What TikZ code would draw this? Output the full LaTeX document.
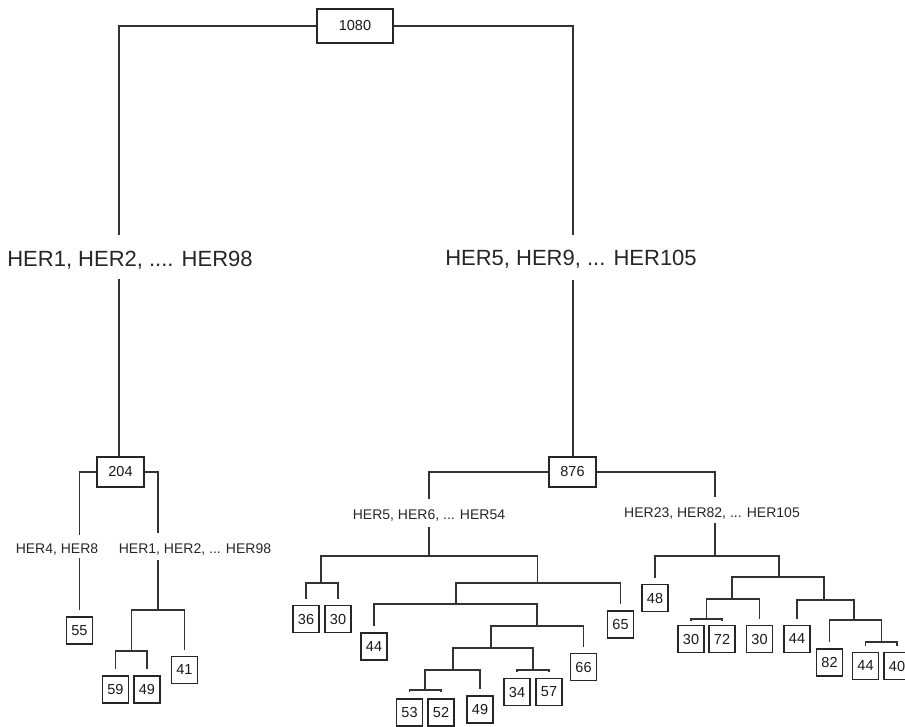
\documentclass[tikz,border=0pt]{standalone}
\usepackage{fontspec}
\setmainfont{Liberation Sans}
\tikzset{
  leaf/.style={draw=black!85, fill=white, line width=1.4pt, text=black!90,
    minimum width=26pt, minimum height=27pt, inner sep=0pt,
    font=\fontsize{14.5}{15}\selectfont},
  inner/.style={leaf, minimum width=47pt, minimum height=30pt},
  rootbox/.style={leaf, minimum width=76pt, minimum height=34pt},
  split/.style={anchor=base, inner sep=0pt, text=black!85,
    font=\fontsize{14}{15}\selectfont},
  bigsplit/.style={split, font=\fontsize{22}{24}\selectfont},
  edge/.style={line width=1.5pt, draw=black!80}
}

\begin{document}
\begin{tikzpicture}[x=1pt,y=-1pt]
  \clip (0,0) rectangle (905,726);

  % junctions
  \coordinate (a1) at (119,235);  \coordinate (a2) at (119,279);
  \coordinate (b1) at (573,235);  \coordinate (b2) at (573,280);
  \coordinate (c1) at (79.5,535); \coordinate (c2) at (79.5,558);
  \coordinate (d1) at (158,533);  \coordinate (d2) at (158,560);
  \coordinate (d3) at (158,610);  \coordinate (e1) at (131.5,651);
  \coordinate (f1) at (429,499);  \coordinate (f2) at (429,527);
  \coordinate (f3) at (429,556);
  \coordinate (g1) at (321,583);  \coordinate (g2) at (537.5,583);
  \coordinate (h1) at (456,604);  \coordinate (h2) at (537,626);
  \coordinate (i1) at (491,648);  \coordinate (i2) at (453,670);
  \coordinate (i3) at (533,670);  \coordinate (i4) at (425,690);
  \coordinate (k1) at (715,497);  \coordinate (k2) at (715,523);
  \coordinate (k3) at (715,556);
  \coordinate (m1) at (779,577);  \coordinate (m2) at (732,599);
  \coordinate (m3) at (824,600);  \coordinate (m4) at (706.5,619);
  \coordinate (m5) at (854,620);  \coordinate (m6) at (881.25,642);

  % boxes
  \node[rootbox] (root) at (355,26) {1080};
  \node[inner] (n204) at (120.5,472) {204};
  \node[inner] (n876) at (572.5,472) {876};

  \node[leaf] (l55)  at (79.5,630.5) {55};
  \node[leaf] (l41)  at (184.5,670) {41};
  \node[leaf] (l59)  at (115.5,689.5) {59};
  \node[leaf] (l49a) at (147,689.5) {49};
  \node[leaf] (l36)  at (306,619) {36};
  \node[leaf] (l30a) at (338,619) {30};
  \node[leaf] (l65)  at (620.5,624.5) {65};
  \node[leaf] (l44a) at (374,646.5) {44};
  \node[leaf] (l66)  at (583.5,667) {66};
  \node[leaf] (l34)  at (517,692) {34};
  \node[leaf] (l57)  at (549,692) {57};
  \node[leaf] (l49b) at (480,709.5) {49};
  \node[leaf] (l53)  at (409.5,712.5) {53};
  \node[leaf] (l52)  at (441,712.5) {52};
  \node[leaf] (l48)  at (655,598) {48};
  \node[leaf] (l30b) at (691,639) {30};
  \node[leaf] (l72)  at (722,639) {72};
  \node[leaf] (l30c) at (759.5,639) {30};
  \node[leaf] (l44b) at (797,639) {44};
  \node[leaf] (l82)  at (829.5,662.5) {82};
  \node[leaf] (l44c) at (865.5,666) {44};
  \node[leaf] (l40)  at (897,666) {40};

  % split labels
  \node[bigsplit] (s1) at (130,266) {HER1, HER2, .... HER98};
  \node[bigsplit] (s2) at (571,265.5) {HER5, HER9, ... HER105};
  \node[split] (s3) at (57,553) {HER4, HER8};
  \node[split] (s4) at (195,553) {HER1, HER2, ... HER98};
  \node[split] (s5) at (429,519) {HER5, HER6, ... HER54};
  \node[split] (s6) at (712,517) {HER23, HER82, ... HER105};

  % top level
  \draw[edge] (root.west) -| (a1) (a2) -- (a2 |- n204.north);
  \draw[edge] (root.east) -| (b1) (b2) -- (b2 |- n876.north);

  % left subtree
  \draw[edge] (n204.west) -| (c1) (c2) -- ([yshift=6pt]l55.north);
  \draw[edge] (n204.east) -| (d1) (d2) -- (d3);
  \draw[edge] ([yshift=6pt]l59.north) |- (e1) -| ([yshift=6pt]l49a.north);
  \draw[edge] (e1) |- (d3) -| ([yshift=6pt]l41.north);

  % middle subtree
  \draw[edge] (n876.west) -| (f1) (f2) -- (f3);
  \draw[edge] ([yshift=6pt]l36.north) |- (g1) -| ([yshift=6pt]l30a.north);
  \draw[edge] (g1) |- (f3) -| (g2);
  \draw[edge] (h1) |- (g2) -| ([yshift=6pt]l65.north);
  \draw[edge] ([yshift=6pt]l44a.north) |- (h1) -| (h2);
  \draw[edge] (i1) |- (h2) -| ([yshift=6pt]l66.north);
  \draw[edge] (i2) |- (i1) -| (i3);
  \draw[edge] ([yshift=6pt]l34.north) |- (i3) -| ([yshift=6pt]l57.north);
  \draw[edge] (i4) |- (i2) -| ([yshift=6pt]l49b.north);
  \draw[edge] ([yshift=6pt]l53.north) |- (i4) -| ([yshift=6pt]l52.north);

  % right subtree
  \draw[edge] (n876.east) -| (k1) (k2) -- (k3);
  \draw[edge] ([yshift=6pt]l48.north) |- (k3) -| (m1);
  \draw[edge] (m2) |- (m1) -| (m3);
  \draw[edge] (m4) |- (m2) -| ([yshift=6pt]l30c.north);
  \draw[edge] ([yshift=4pt]l30b.north) |- (m4) -| ([yshift=4pt]l72.north);
  \draw[edge] ([yshift=6pt]l44b.north) |- (m3) -| (m5);
  \draw[edge] ([yshift=6pt]l82.north) |- (m5) -| (m6);
  \draw[edge] ([yshift=6pt]l44c.north) |- (m6) -| ([yshift=6pt]l40.north);
\end{tikzpicture}
\end{document}
